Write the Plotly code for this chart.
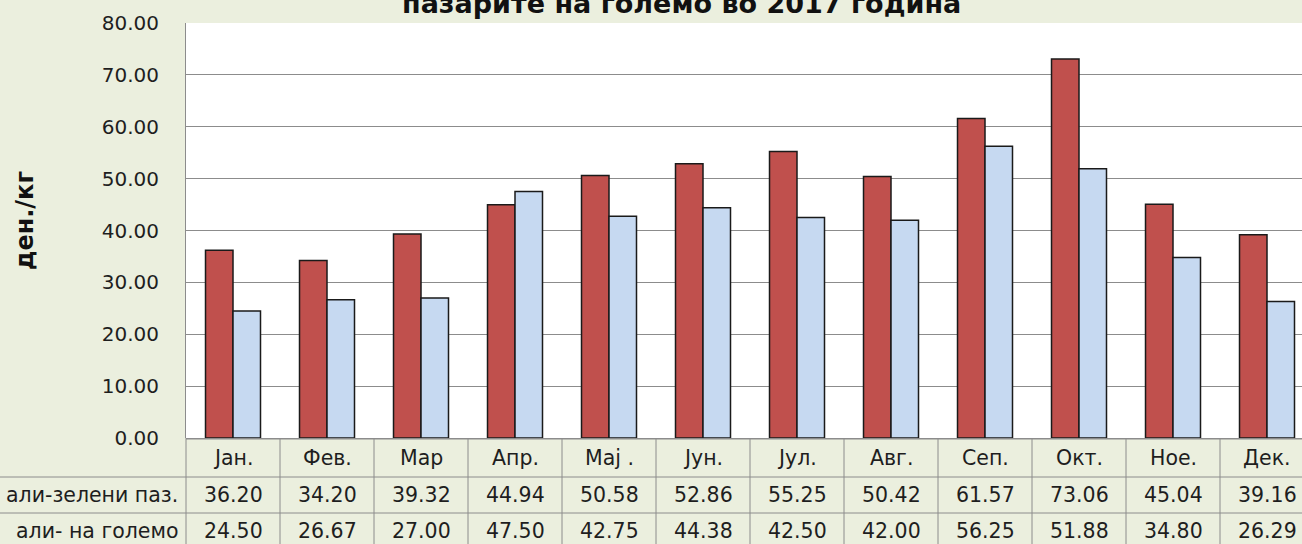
import plotly.graph_objects as go

months = ["Јан.", "Фев.", "Мар", "Апр.", "Мај .", "Јун.", "Јул.", "Авг.", "Сеп.", "Окт.", "Ное.", "Дек."]
series1_name = "али-зелени паз."
series1 = [36.20, 34.20, 39.32, 44.94, 50.58, 52.86, 55.25, 50.42, 61.57, 73.06, 45.04, 39.16]
series2_name = "али- на големо"
series2 = [24.50, 26.67, 27.00, 47.50, 42.75, 44.38, 42.50, 42.00, 56.25, 51.88, 34.80, 26.29]
title_text = "пазарите на големо во 2017 година"
y_title = "ден./кг"

FIG_W, FIG_H = 1302, 544
L, R, T, B = 186, 1302, 23, 438
W, H = R - L, B - T
FONT = "DejaVu Sans"
BG = "#EBEFDE"
GRID = "#8C8C8C"
TXT = "#1E1E1E"
TBL_SIZE = 20.5


def px_x(px):
    return (px - L) / W


def px_y(py):
    return (B - py) / H


cats = list(range(len(months)))
fig = go.Figure()
fig.add_trace(go.Bar(x=cats, y=series1, name=series1_name,
                     marker=dict(color="#C0504D", line=dict(color="#1A1A1A", width=1.5))))
fig.add_trace(go.Bar(x=cats, y=series2, name=series2_name,
                     marker=dict(color="#C6D9F1", line=dict(color="#1A1A1A", width=1.5))))

x_max = -0.5 + W / 94.0

shapes = []
shapes.append(dict(type="line", xref="paper", yref="paper", x0=0, x1=1.01,
                   y0=px_y(439), y1=px_y(439), line=dict(color=GRID, width=1)))
for py in (477, 513):
    shapes.append(dict(type="line", xref="paper", yref="paper", x0=px_x(0), x1=1.01,
                       y0=px_y(py), y1=px_y(py), line=dict(color=GRID, width=1)))
shapes.append(dict(type="line", xref="paper", yref="paper", x0=px_x(186), x1=px_x(186),
                   y0=px_y(438), y1=px_y(560), line=dict(color=GRID, width=1)))
for k in range(1, len(months) + 1):
    shapes.append(dict(type="line", xref="x", yref="paper", x0=k - 0.5, x1=k - 0.5,
                       y0=px_y(438), y1=px_y(560), line=dict(color=GRID, width=1)))

annotations = []
row_y = {"cat": 458, "s1": 495, "s2": 531}
for i, m in enumerate(months):
    annotations.append(dict(x=i, y=px_y(row_y["cat"]), xref="x", yref="paper", text=m,
                            showarrow=False, font=dict(family=FONT, size=TBL_SIZE, color=TXT),
                            xanchor="center", yanchor="middle"))
    annotations.append(dict(x=i, y=px_y(row_y["s1"]), xref="x", yref="paper",
                            text=f"{series1[i]:.2f}", showarrow=False,
                            font=dict(family=FONT, size=TBL_SIZE, color=TXT),
                            xanchor="center", yanchor="middle"))
    annotations.append(dict(x=i, y=px_y(row_y["s2"]), xref="x", yref="paper",
                            text=f"{series2[i]:.2f}", showarrow=False,
                            font=dict(family=FONT, size=TBL_SIZE, color=TXT),
                            xanchor="center", yanchor="middle"))
annotations.append(dict(x=px_x(180), y=px_y(row_y["s1"]), xref="paper", yref="paper",
                        text=series1_name, showarrow=False,
                        font=dict(family=FONT, size=TBL_SIZE, color=TXT),
                        xanchor="right", yanchor="middle"))
annotations.append(dict(x=px_x(180), y=px_y(row_y["s2"]), xref="paper", yref="paper",
                        text=series2_name, showarrow=False,
                        font=dict(family=FONT, size=TBL_SIZE, color=TXT),
                        xanchor="right", yanchor="middle"))
annotations.append(dict(x=px_x(681), y=px_y(3), xref="paper", yref="paper",
                        text=f"<b>{title_text}</b>", showarrow=False,
                        font=dict(family=FONT, size=27, color="#111111"),
                        xanchor="center", yanchor="middle"))
annotations.append(dict(x=px_x(25), y=px_y(221), xref="paper", yref="paper",
                        text=f"<b>{y_title}</b>", showarrow=False, textangle=-90,
                        font=dict(family=FONT, size=24, color="#111111"),
                        xanchor="center", yanchor="middle"))

fig.update_layout(
    width=FIG_W, height=FIG_H,
    margin=dict(l=L, r=FIG_W - R, t=T, b=FIG_H - B, pad=0),
    paper_bgcolor=BG, plot_bgcolor="white",
    barmode="group", bargap=0.415, bargroupgap=0,
    showlegend=False,
    shapes=shapes, annotations=annotations,
    xaxis=dict(range=[-0.5, x_max], showticklabels=False, ticks="", showgrid=False,
               zeroline=False, showline=False, fixedrange=True),
    yaxis=dict(range=[0, 80], dtick=10, tickformat=".2f", showgrid=True, gridcolor=GRID,
               gridwidth=1, zeroline=True, zerolinecolor=GRID, zerolinewidth=1,
               showline=True, linecolor=GRID, linewidth=1, ticks="",
               ticklabelstandoff=22,
               tickfont=dict(family=FONT, size=20, color=TXT)),
)

fig.write_html(
    "out.html",
    config={"displayModeBar": False},
    post_script="document.body.style.margin='0';document.body.style.overflow='hidden';",
)
